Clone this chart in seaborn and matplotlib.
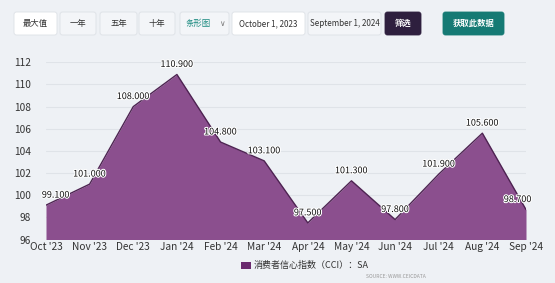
import matplotlib
matplotlib.use("Agg")
import matplotlib.pyplot as plt
import matplotlib.patheffects as pe
from matplotlib.patches import FancyBboxPatch, Rectangle
import seaborn as sns
import pandas as pd

months = ["Oct '23", "Nov '23", "Dec '23", "Jan '24", "Feb '24", "Mar '24",
          "Apr '24", "May '24", "Jun '24", "Jul '24", "Aug '24", "Sep '24"]
cci = [99.1, 101.0, 108.0, 110.9, 104.8, 103.1, 97.5, 101.3, 97.8, 101.9, 105.6, 98.7]
yticks = [96, 98, 100, 102, 104, 106, 108, 110, 112]
series_name = "消费者信心指数（CCI）：SA"

sns.set_style("white")
plt.rcParams['font.family'] = ['Noto Sans CJK SC', 'DejaVu Sans']

BG = "#eef1f5"
FILL = "#8b4f8e"
LINE = "#4e2352"

fig = plt.figure(figsize=(5.55, 2.83), dpi=100, facecolor=BG)

# background / UI layer in pixel coords
bg = fig.add_axes([0, 0, 1, 1], zorder=0)
bg.set_xlim(0, 555)
bg.set_ylim(283, 0)
bg.axis("off")

def button(x0, x1, y0, y1, face, edge, text, tcolor, fs=6.5, weight="normal", ha="center"):
    bg.add_patch(FancyBboxPatch((x0, y0), x1 - x0, y1 - y0,
                                boxstyle="round,pad=0,rounding_size=2.5",
                                facecolor=face, edgecolor=edge, linewidth=0.6))
    if ha == "center":
        bg.text((x0 + x1) / 2, (y0 + y1) / 2, text, ha="center", va="center",
                fontsize=fs, color=tcolor, fontweight=weight)
    else:
        bg.text(x0 + 6, (y0 + y1) / 2, text, ha="left", va="center",
                fontsize=fs, color=tcolor, fontweight=weight)

button(14, 57, 12, 35, "white", "#dde1e6", "最大值", "#333333", fs=6)
button(60, 96, 12, 35, "#f3f5f8", "#dde1e6", "一年", "#333333", fs=6)
button(100, 137, 12, 35, "#f3f5f8", "#dde1e6", "五年", "#333333", fs=6)
button(139, 175, 12, 35, "#f3f5f8", "#dde1e6", "十年", "#333333", fs=6)
button(180, 229, 12, 35, "#f3f5f8", "#dde1e6", "条形图", "#1b8a80", fs=6, ha="left")
bg.text(222, 23.5, "∨", ha="center", va="center", fontsize=5.5, color="#777777",
        family="DejaVu Sans")
button(232, 305, 12, 35, "white", "#dde1e6", "October 1, 2023", "#333333", fs=5.8)
button(308, 381, 12, 35, "#f3f5f8", "#dde1e6", "September 1, 2024", "#333333", fs=5.8)
button(385, 421, 12, 35, "#2e1f3e", "#2e1f3e", "筛选", "white", fs=6, weight="bold")
button(443, 504, 12, 35, "#157a74", "#157a74", "获取此数据", "white", fs=6, weight="bold")

# legend
bg.add_patch(Rectangle((241, 262), 10, 7, facecolor="#6a2a6e", edgecolor="none"))
bg.text(254, 265.5, series_name, ha="left", va="center", fontsize=6.5, color="#333333")
bg.text(366, 276, "SOURCE: WWW.CEICDATA", ha="left", va="center", fontsize=3.6,
        color="#999999")

# chart
ax = fig.add_axes([46 / 555, 1 - 239.5 / 283, (526 - 46) / 555, (239.5 - 62.3) / 283],
                  zorder=1)
ax.set_facecolor("none")
df = pd.DataFrame({"x": range(len(months)), "v": cci})
ax.fill_between(df["x"], df["v"], 96, color=FILL, linewidth=0, zorder=2)
sns.lineplot(data=df, x="x", y="v", ax=ax, color=LINE, linewidth=1.0, zorder=3)

ax.set_xlim(0, len(months) - 1)
ax.set_ylim(96, 112)
ax.set_yticks(yticks)
ax.set_xticks(range(len(months)))
ax.set_xticklabels(months)
ax.tick_params(axis="both", length=0, labelsize=7.3, colors="#333333")
ax.tick_params(axis="x", pad=2)
ax.tick_params(axis="y", pad=11)
ax.grid(axis="y", color="#dfe3e8", linewidth=0.8, zorder=1)
ax.set_axisbelow(True)
for s in ax.spines.values():
    s.set_visible(False)
ax.set_xlabel("")
ax.set_ylabel("")

n = len(cci)
for i, v in enumerate(cci):
    if i == 0:
        ha, dx = "left", -3
    elif i == n - 1:
        ha, dx = "right", 4
    else:
        ha, dx = "center", 0
    ax.annotate(f"{v:.3f}", (i, v), xytext=(dx, 4), textcoords="offset points",
                ha=ha, va="bottom", fontsize=6.5, color="#111111",
                path_effects=[pe.withStroke(linewidth=1.5, foreground="white")],
                zorder=5, annotation_clip=False)

fig.savefig("out.png", dpi=100, facecolor=BG)
